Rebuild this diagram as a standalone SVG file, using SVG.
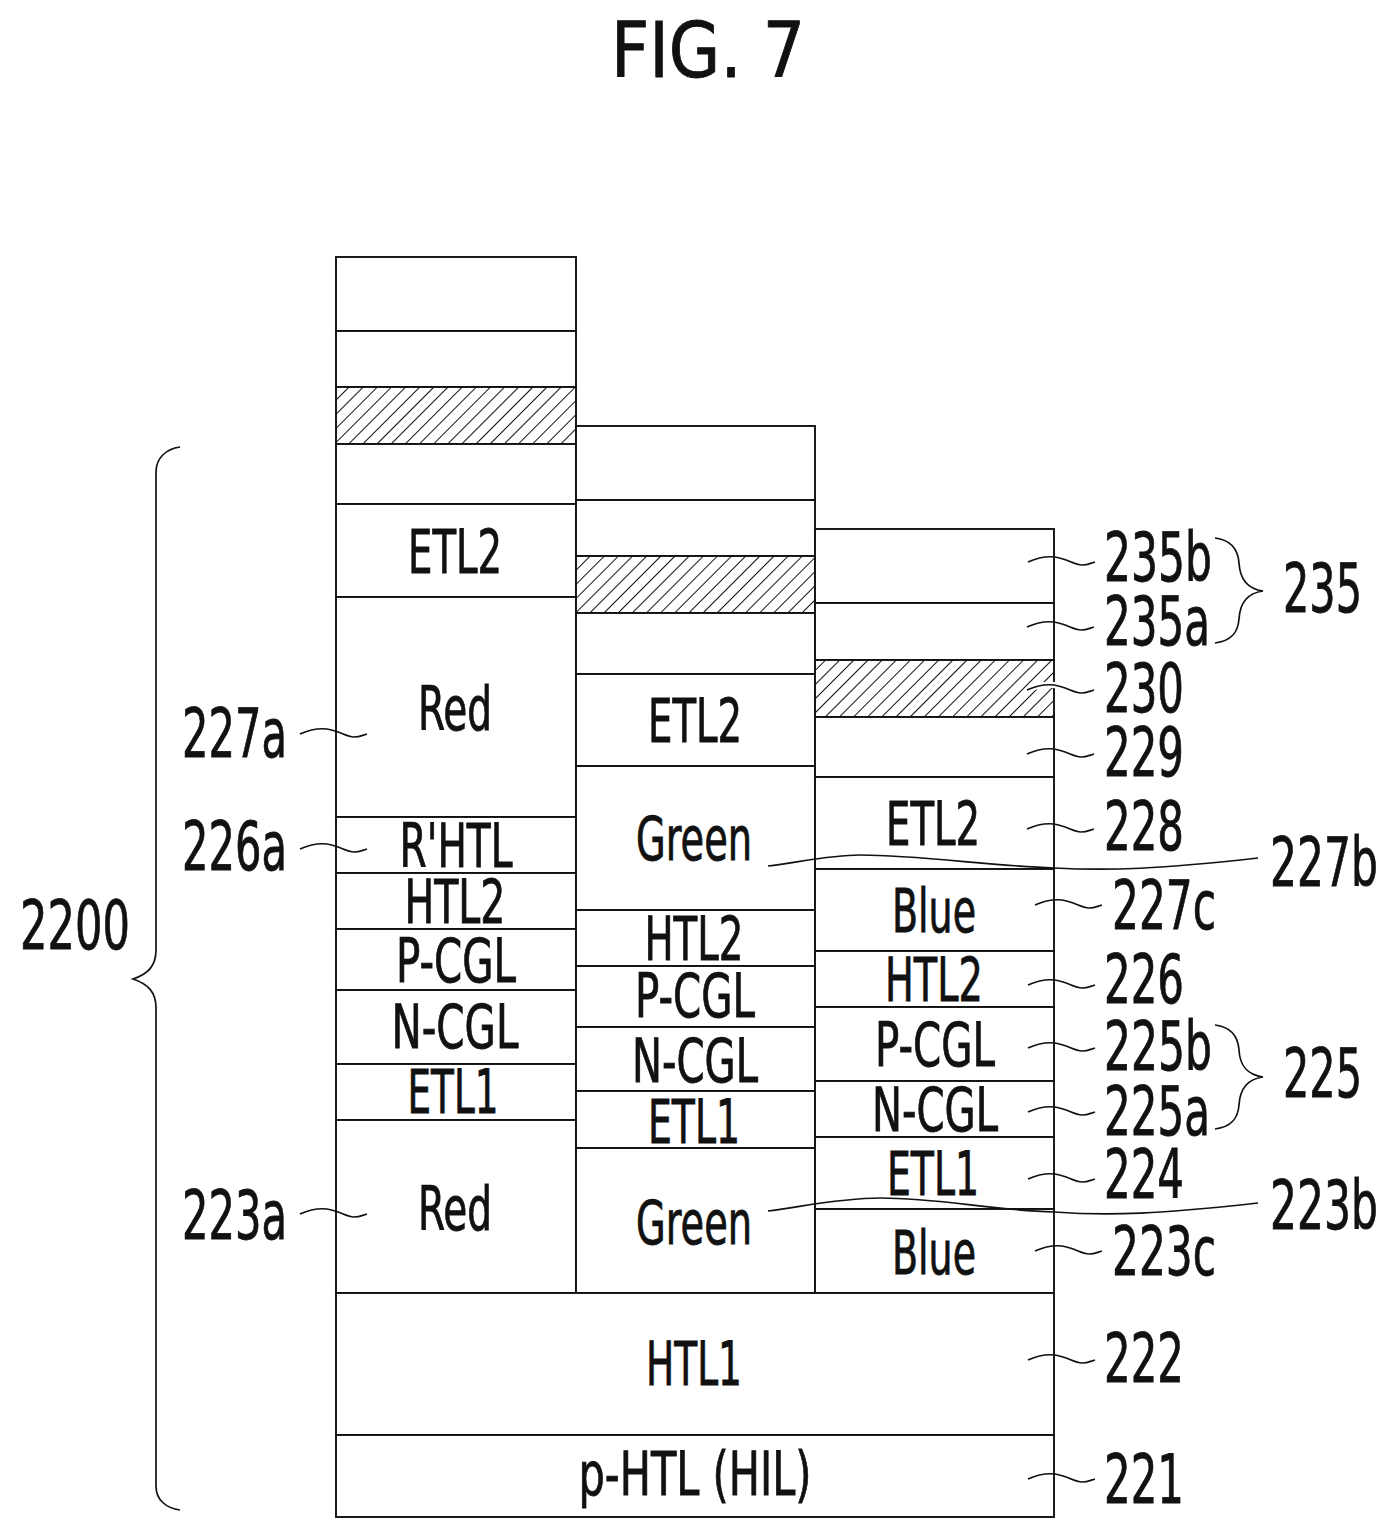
<svg xmlns="http://www.w3.org/2000/svg" xmlns:xlink="http://www.w3.org/1999/xlink" width="1397" height="1539" viewBox="0 0 1397 1539">
<style>
text{font-family:"DejaVu Sans","Liberation Sans",sans-serif;fill:#111;stroke:#111;stroke-width:0.9;}
.l{font-size:60px;text-anchor:middle;}
.r{font-size:68px;}
.box{fill:#fff;stroke:#111;stroke-width:1.9;}
.hat{fill:url(#hatch);stroke:#111;stroke-width:1.9;}
.lead{fill:none;stroke:#111;stroke-width:1.7;}
.knock{fill:none;stroke:#fff;stroke-width:6;}
</style>
<defs>
<pattern id="hatch" patternUnits="userSpaceOnUse" width="10" height="10" patternTransform="rotate(45)">
<rect width="10" height="10" fill="#fff"/>
<line x1="0" y1="0" x2="0" y2="10" stroke="#111" stroke-width="2"/>
</pattern>
<path id="sq" d="M0 0C9 -4 18 -6 27 -5C40 -3 46 3 54 3C60 3 63 1 67 0"/>
</defs>
<rect width="1397" height="1539" fill="#fff"/>
<text id="title" x="611" y="77" font-size="76" textLength="194" lengthAdjust="spacingAndGlyphs">FIG. 7</text>

<g id="col-red">
<g id="r-235b"><rect class="box" x="336" y="257" width="240" height="74"/></g>
<g id="r-235a"><rect class="box" x="336" y="331" width="240" height="56"/></g>
<g id="r-230"><rect class="hat" x="336" y="387" width="240" height="57"/></g>
<g id="r-229"><rect class="box" x="336" y="444" width="240" height="60"/></g>
<g id="r-etl2"><rect class="box" x="336" y="504" width="240" height="93"/><text class="l" x="455" y="573" textLength="94" lengthAdjust="spacingAndGlyphs">ETL2</text></g>
<g id="r-227a"><rect class="box" x="336" y="597" width="240" height="220"/><text class="l" x="455" y="730" textLength="74" lengthAdjust="spacingAndGlyphs">Red</text></g>
<g id="r-226a"><rect class="box" x="336" y="817" width="240" height="56"/><text class="l" x="456" y="867" textLength="113" lengthAdjust="spacingAndGlyphs">R'HTL</text></g>
<g id="r-htl2"><rect class="box" x="336" y="873" width="240" height="56"/><text class="l" x="455" y="923" textLength="101" lengthAdjust="spacingAndGlyphs">HTL2</text></g>
<g id="r-pcgl"><rect class="box" x="336" y="929" width="240" height="61"/><text class="l" x="456" y="982" textLength="120" lengthAdjust="spacingAndGlyphs">P-CGL</text></g>
<g id="r-ncgl"><rect class="box" x="336" y="990" width="240" height="74"/><text class="l" x="455" y="1048" textLength="127" lengthAdjust="spacingAndGlyphs">N-CGL</text></g>
<g id="r-etl1"><rect class="box" x="336" y="1064" width="240" height="56"/><text class="l" x="453" y="1113" textLength="91" lengthAdjust="spacingAndGlyphs">ETL1</text></g>
<g id="r-223a"><rect class="box" x="336" y="1120" width="240" height="173"/><text class="l" x="455" y="1230" textLength="74" lengthAdjust="spacingAndGlyphs">Red</text></g>
</g>

<g id="col-green">
<g id="g-235b"><rect class="box" x="576" y="426" width="239" height="74"/></g>
<g id="g-235a"><rect class="box" x="576" y="500" width="239" height="56"/></g>
<g id="g-230"><rect class="hat" x="576" y="556" width="239" height="57"/></g>
<g id="g-229"><rect class="box" x="576" y="613" width="239" height="61"/></g>
<g id="g-etl2"><rect class="box" x="576" y="674" width="239" height="92"/><text class="l" x="695" y="742" textLength="94" lengthAdjust="spacingAndGlyphs">ETL2</text></g>
<g id="g-227b"><rect class="box" x="576" y="766" width="239" height="144"/><text class="l" x="694" y="860" textLength="116" lengthAdjust="spacingAndGlyphs">Green</text></g>
<g id="g-htl2"><rect class="box" x="576" y="910" width="239" height="56"/><text class="l" x="694" y="960" textLength="99" lengthAdjust="spacingAndGlyphs">HTL2</text></g>
<g id="g-pcgl"><rect class="box" x="576" y="966" width="239" height="61"/><text class="l" x="695" y="1017" textLength="120" lengthAdjust="spacingAndGlyphs">P-CGL</text></g>
<g id="g-ncgl"><rect class="box" x="576" y="1027" width="239" height="64"/><text class="l" x="695" y="1082" textLength="126" lengthAdjust="spacingAndGlyphs">N-CGL</text></g>
<g id="g-etl1"><rect class="box" x="576" y="1091" width="239" height="57"/><text class="l" x="694" y="1143" textLength="92" lengthAdjust="spacingAndGlyphs">ETL1</text></g>
<g id="g-223b"><rect class="box" x="576" y="1148" width="239" height="145"/><text class="l" x="694" y="1244" textLength="116" lengthAdjust="spacingAndGlyphs">Green</text></g>
</g>

<g id="col-blue">
<g id="b-235b"><rect class="box" x="815" y="529" width="239" height="74"/></g>
<g id="b-235a"><rect class="box" x="815" y="603" width="239" height="57"/></g>
<g id="b-230"><rect class="hat" x="815" y="660" width="239" height="57"/></g>
<g id="b-229"><rect class="box" x="815" y="717" width="239" height="60"/></g>
<g id="b-228"><rect class="box" x="815" y="777" width="239" height="92"/><text class="l" x="933" y="845" textLength="94" lengthAdjust="spacingAndGlyphs">ETL2</text></g>
<g id="b-227c"><rect class="box" x="815" y="869" width="239" height="82"/><text class="l" x="934" y="932" textLength="84" lengthAdjust="spacingAndGlyphs">Blue</text></g>
<g id="b-226"><rect class="box" x="815" y="951" width="239" height="56"/><text class="l" x="934" y="1001" textLength="98" lengthAdjust="spacingAndGlyphs">HTL2</text></g>
<g id="b-225b"><rect class="box" x="815" y="1007" width="239" height="74"/><text class="l" x="935" y="1066" textLength="120" lengthAdjust="spacingAndGlyphs">P-CGL</text></g>
<g id="b-225a"><rect class="box" x="815" y="1081" width="239" height="56"/><text class="l" x="935" y="1131" textLength="126" lengthAdjust="spacingAndGlyphs">N-CGL</text></g>
<g id="b-224"><rect class="box" x="815" y="1137" width="239" height="72"/><text class="l" x="933" y="1195" textLength="92" lengthAdjust="spacingAndGlyphs">ETL1</text></g>
<g id="b-223c"><rect class="box" x="815" y="1209" width="239" height="84"/><text class="l" x="934" y="1274" textLength="84" lengthAdjust="spacingAndGlyphs">Blue</text></g>
</g>

<g id="base">
<g id="n-222"><rect class="box" x="336" y="1293" width="718" height="142"/><text class="l" x="694" y="1385" textLength="96" lengthAdjust="spacingAndGlyphs">HTL1</text></g>
<g id="n-221"><rect class="box" x="336" y="1435" width="718" height="82"/><text class="l" x="695" y="1495" textLength="233" lengthAdjust="spacingAndGlyphs">p-HTL (HIL)</text></g>
</g>

<g id="connectors">
<g class="lead" transform="translate(1028 562)"><use xlink:href="#sq" href="#sq"/></g>
<g class="lead" transform="translate(1027 627)"><use xlink:href="#sq" href="#sq"/></g>
<g class="knock" transform="translate(1027 690)"><use xlink:href="#sq" href="#sq"/></g>
<g class="lead" transform="translate(1027 690)"><use xlink:href="#sq" href="#sq"/></g>
<g class="lead" transform="translate(1027 754)"><use xlink:href="#sq" href="#sq"/></g>
<g class="lead" transform="translate(1027 829)"><use xlink:href="#sq" href="#sq"/></g>
<g class="lead" transform="translate(1035 905)"><use xlink:href="#sq" href="#sq"/></g>
<g class="lead" transform="translate(1028 985)"><use xlink:href="#sq" href="#sq"/></g>
<g class="lead" transform="translate(1028 1048)"><use xlink:href="#sq" href="#sq"/></g>
<g class="lead" transform="translate(1028 1112)"><use xlink:href="#sq" href="#sq"/></g>
<g class="lead" transform="translate(1028 1179)"><use xlink:href="#sq" href="#sq"/></g>
<g class="lead" transform="translate(1035 1251)"><use xlink:href="#sq" href="#sq"/></g>
<g class="lead" transform="translate(1028 1360)"><use xlink:href="#sq" href="#sq"/></g>
<g class="lead" transform="translate(1028 1479)"><use xlink:href="#sq" href="#sq"/></g>
<g class="lead" transform="translate(300 734)"><use xlink:href="#sq" href="#sq"/></g>
<g class="lead" transform="translate(300 849)"><use xlink:href="#sq" href="#sq"/></g>
<g class="lead" transform="translate(300 1214)"><use xlink:href="#sq" href="#sq"/></g>
<path class="lead" d="M768 866C800 862 830 855 860 855C920 855 990 866 1054 868C1110 871 1160 869 1258 858"/>
<path class="lead" d="M768 1211C800 1207 840 1198 880 1198C940 1198 990 1210 1054 1212C1110 1216 1160 1214 1258 1203"/>
<path class="lead" d="M180 447C166 449 156 458 156 472V950C156 966 148 974 133 979C148 984 156 992 156 1008V1486C156 1500 166 1508 180 1510"/>
<path class="lead" d="M1215 538C1232 540 1238 550 1239 563C1240 580 1248 589 1263 591C1248 593 1240 602 1239 619C1238 632 1232 641 1215 643"/>
<path class="lead" d="M1215 1025C1232 1027 1238 1037 1239 1050C1240 1067 1248 1075 1263 1077C1248 1079 1240 1088 1239 1105C1238 1118 1232 1127 1215 1129"/>
</g>

<g id="labels">
<text class="r" x="1104" y="581" textLength="108" lengthAdjust="spacingAndGlyphs">235b</text>
<text class="r" x="1104" y="645" textLength="106" lengthAdjust="spacingAndGlyphs">235a</text>
<text class="r" x="1283" y="612" textLength="79" lengthAdjust="spacingAndGlyphs">235</text>
<text class="r" x="1104" y="712" textLength="80" lengthAdjust="spacingAndGlyphs">230</text>
<text class="r" x="1104" y="776" textLength="80" lengthAdjust="spacingAndGlyphs">229</text>
<text class="r" x="1104" y="850" textLength="80" lengthAdjust="spacingAndGlyphs">228</text>
<text class="r" x="1270" y="886" textLength="108" lengthAdjust="spacingAndGlyphs">227b</text>
<text class="r" x="1112" y="929" textLength="104" lengthAdjust="spacingAndGlyphs">227c</text>
<text class="r" x="1104" y="1003" textLength="80" lengthAdjust="spacingAndGlyphs">226</text>
<text class="r" x="1104" y="1070" textLength="108" lengthAdjust="spacingAndGlyphs">225b</text>
<text class="r" x="1104" y="1135" textLength="106" lengthAdjust="spacingAndGlyphs">225a</text>
<text class="r" x="1283" y="1097" textLength="79" lengthAdjust="spacingAndGlyphs">225</text>
<text class="r" x="1104" y="1198" textLength="80" lengthAdjust="spacingAndGlyphs">224</text>
<text class="r" x="1270" y="1229" textLength="108" lengthAdjust="spacingAndGlyphs">223b</text>
<text class="r" x="1112" y="1275" textLength="104" lengthAdjust="spacingAndGlyphs">223c</text>
<text class="r" x="1104" y="1382" textLength="80" lengthAdjust="spacingAndGlyphs">222</text>
<text class="r" x="1104" y="1503" textLength="80" lengthAdjust="spacingAndGlyphs">221</text>
<text class="r" x="182" y="757" textLength="105" lengthAdjust="spacingAndGlyphs">227a</text>
<text class="r" x="182" y="870" textLength="105" lengthAdjust="spacingAndGlyphs">226a</text>
<text class="r" x="182" y="1239" textLength="105" lengthAdjust="spacingAndGlyphs">223a</text>
<text class="r" x="20" y="949" textLength="110" lengthAdjust="spacingAndGlyphs">2200</text>
</g>
</svg>
